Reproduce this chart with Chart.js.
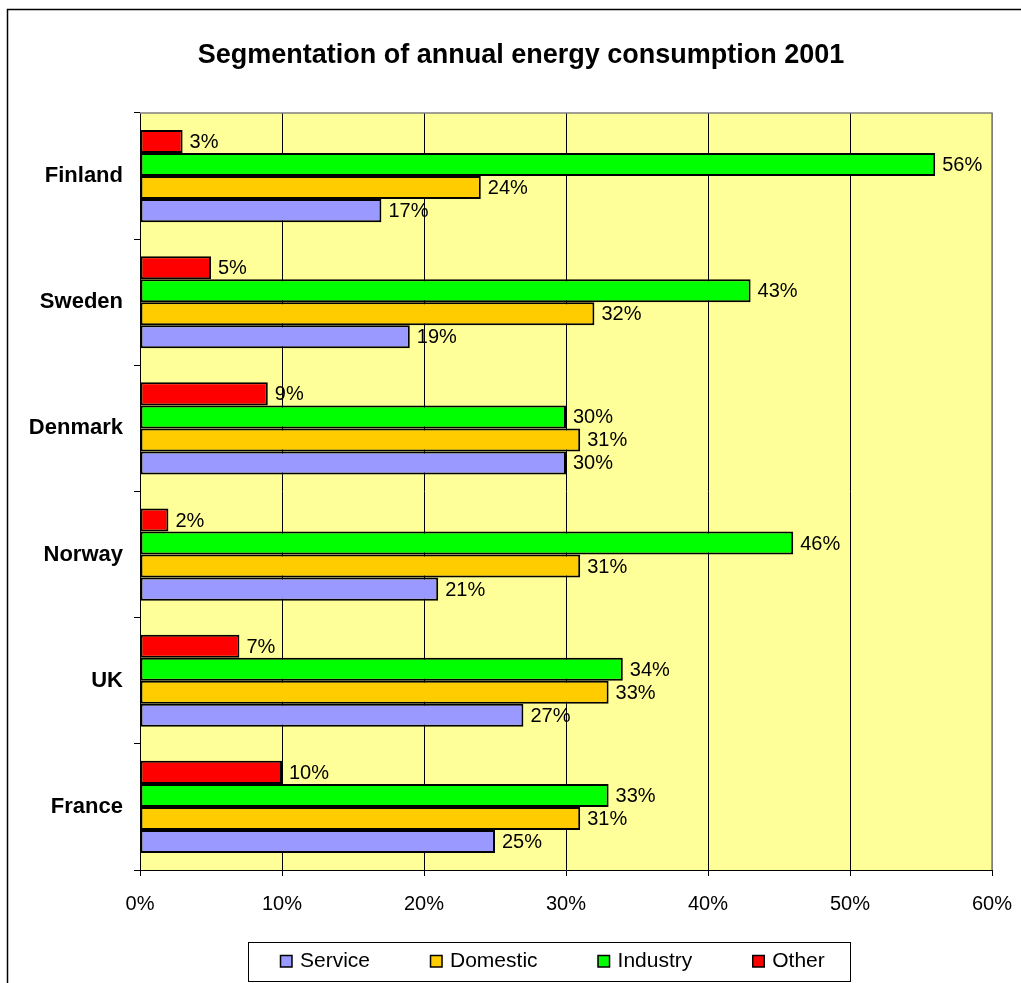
<!DOCTYPE html>
<html>
<head>
<meta charset="utf-8">
<script src="https://cdn.jsdelivr.net/npm/chart.js@4/dist/chart.umd.min.js"></script>
<style>
  html, body { margin: 0; padding: 0; background: #fff; }
</style>
</head>
<body>
<canvas id="energy-chart" width="1021" height="983"></canvas>
<script>
const countries = ["Finland", "Sweden", "Denmark", "Norway", "UK", "France"]
const service   = [17, 19, 30, 21, 27, 25]
const domestic  = [24, 32, 31, 31, 33, 31]
const industry  = [56, 43, 30, 46, 34, 33]
const other     = [3, 5, 9, 2, 7, 10]
const percentTicks = [0, 10, 20, 30, 40, 50, 60]
const chartTitle = "Segmentation of annual energy consumption 2001"

const fontFamily = "'Liberation Sans', Arial, Helvetica, sans-serif"

// white page, thin outer frame, title and the yellow plot background
const plotBackground = {
  id: "plotBackground",
  beforeDraw(chart) {
    const ctx = chart.ctx
    const area = chart.chartArea
    ctx.save()
    ctx.fillStyle = "#fff"
    ctx.fillRect(0, 0, chart.width, chart.height)
    ctx.strokeStyle = "#000"
    ctx.lineWidth = 1.5
    ctx.beginPath()
    ctx.moveTo(chart.width + 2, 9.5)
    ctx.lineTo(7.5, 9.5)
    ctx.lineTo(7.5, chart.height + 2)
    ctx.stroke()
    ctx.fillStyle = "#FFFF99"
    ctx.fillRect(area.left, area.top, area.right - area.left, area.bottom - area.top)

    ctx.fillStyle = "#000"
    ctx.font = "bold 27px " + fontFamily
    ctx.textAlign = "center"
    ctx.textBaseline = "middle"
    ctx.fillText(chartTitle, 521, 56)
    ctx.restore()
  },
  beforeDatasetsDraw(chart) {
    const ctx = chart.ctx
    const area = chart.chartArea
    ctx.save()
    ctx.strokeStyle = "#808080"
    ctx.lineWidth = 1.5
    ctx.beginPath()
    ctx.moveTo(area.left, area.top)
    ctx.lineTo(area.right, area.top)
    ctx.lineTo(area.right, area.bottom)
    ctx.stroke()
    ctx.restore()
  }
}

// percentage written just past the end of every bar
const valueLabels = {
  id: "valueLabels",
  afterDatasetsDraw(chart) {
    const ctx = chart.ctx
    ctx.save()
    ctx.font = "20px " + fontFamily
    ctx.fillStyle = "#000"
    ctx.textBaseline = "middle"
    ctx.textAlign = "left"
    chart.data.datasets.forEach((ds, i) => {
      chart.getDatasetMeta(i).data.forEach((bar, j) => {
        ctx.fillText(ds.data[j] + "%", bar.x + 7, bar.y + 1)
      })
    })
    ctx.restore()
  }
}

// boxed legend under the axis, series listed bottom bar first
const boxLegend = {
  id: "boxLegend",
  afterDraw(chart) {
    const ctx = chart.ctx
    const items = [...chart.data.datasets].reverse()
    const cy = 961
    ctx.save()
    ctx.font = "21px " + fontFamily
    ctx.lineWidth = 1
    ctx.strokeStyle = "#000"
    ctx.strokeRect(248.5, 942.5, 602, 39)
    ctx.textBaseline = "middle"
    ctx.lineWidth = 1.5
    let x = 280
    items.forEach(ds => {
      ctx.fillStyle = ds.backgroundColor
      ctx.fillRect(x, cy - 6, 12, 12)
      ctx.strokeRect(x + 0.5, cy - 5.5, 11.5, 11.5)
      ctx.fillStyle = "#000"
      ctx.fillText(ds.label, x + 20, cy)
      x += 20 + ctx.measureText(ds.label).width + 60
    })
    ctx.restore()
  }
}

const barStyle = {
  borderColor: "#000",
  borderWidth: 2,
  borderSkipped: false,
  barPercentage: 1.0,
  categoryPercentage: 0.73
}

new Chart(document.getElementById("energy-chart"), {
  type: "bar",
  data: {
    labels: countries,
    datasets: [
      { label: "Other",    data: other,    backgroundColor: "#FF0000", ...barStyle },
      { label: "Industry", data: industry, backgroundColor: "#00FF00", ...barStyle },
      { label: "Domestic", data: domestic, backgroundColor: "#FFCC00", ...barStyle },
      { label: "Service",  data: service,  backgroundColor: "#9999FF", ...barStyle }
    ]
  },
  options: {
    indexAxis: "y",
    responsive: false,
    animation: false,
    layout: { padding: { left: 0, right: 29, top: 113, bottom: 70 } },
    plugins: {
      legend: { display: false },
      tooltip: { enabled: false },
      title: { display: false }
    },
    scales: {
      x: {
        min: 0,
        max: 60,
        afterBuildTicks: scale => {
          scale.ticks = percentTicks.map(v => ({ value: v }))
        },
        afterFit: scale => {
          scale.height = 43
          scale.paddingLeft = 0
          scale.paddingRight = 0
        },
        ticks: {
          color: "#000",
          padding: 16,
          maxRotation: 0,
          font: { family: fontFamily, size: 20 },
          callback: v => v + "%"
        },
        grid: {
          color: c => (c.index === percentTicks.length - 1 ? "#808080" : "#000"),
          tickColor: "#000",
          tickLength: 6,
          lineWidth: 1
        },
        border: { color: "#000", width: 1 }
      },
      y: {
        afterFit: scale => { scale.width = 140 },
        ticks: {
          color: "#000",
          padding: 11,
          font: { family: fontFamily, size: 22, weight: "bold" }
        },
        grid: {
          drawOnChartArea: false,
          offset: true,
          tickColor: "#000",
          tickLength: 6
        },
        border: { color: "#000", width: 1 }
      }
    }
  },
  plugins: [plotBackground, valueLabels, boxLegend]
})
</script>
</body>
</html>
